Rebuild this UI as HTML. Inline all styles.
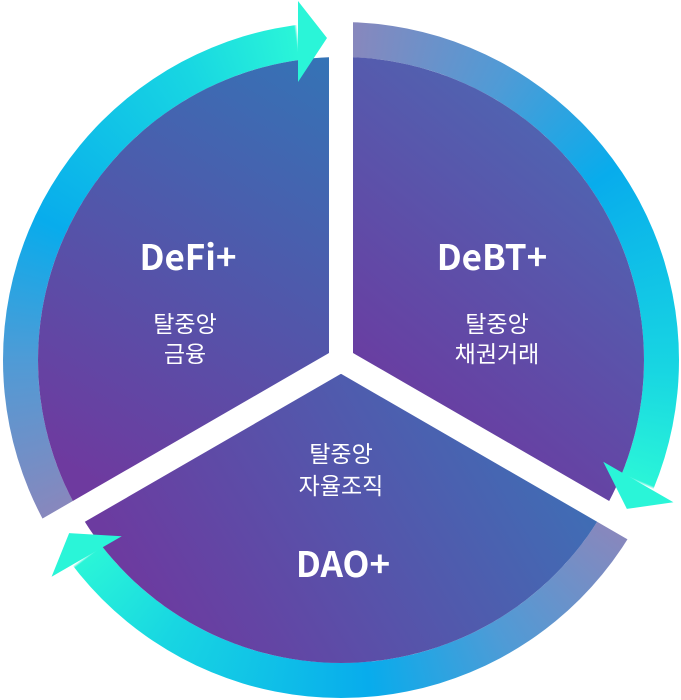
<!DOCTYPE html>
<html><head><meta charset="utf-8"><style>
html,body{margin:0;padding:0;background:#fff;}
#wrap{position:relative;width:681px;height:700px;overflow:hidden;}
#ring{position:absolute;left:3px;top:22px;width:676px;height:676px;border-radius:50%;
background:conic-gradient(from 0deg,
#8c86bb 0deg,#4f9bd6 30deg,#08acec 55deg,#18d6e2 92deg,#2af5d8 112deg,#ffffff 112.5deg,#ffffff 120deg,
#8c86bb 120deg,#4f9bd6 150deg,#08acec 175deg,#18d6e2 212deg,#2af5d8 232deg,#ffffff 232.5deg,#ffffff 240deg,
#8c86bb 240deg,#4f9bd6 270deg,#08acec 295deg,#18d6e2 332deg,#2af5d8 352deg,#ffffff 352.5deg,#ffffff 360deg);}
svg{position:absolute;left:0;top:0;}
.t{font-family:"Noto Sans CJK KR","Liberation Sans",sans-serif;fill:#fff;}
</style></head><body><div id="wrap">
<div id="ring"></div>
<svg width="681" height="700" viewBox="0 0 681 700">
<defs>
<linearGradient id="gL" gradientUnits="userSpaceOnUse" x1="90" y1="480" x2="341" y2="60"><stop offset="0" stop-color="#6e3a9f"/><stop offset="1" stop-color="#3474b6"/></linearGradient>
<linearGradient id="gR" gradientUnits="userSpaceOnUse" x1="360" y1="380" x2="600" y2="80"><stop offset="0" stop-color="#6a3ca1"/><stop offset="1" stop-color="#4a6cb4"/></linearGradient>
<linearGradient id="gD" gradientUnits="userSpaceOnUse" x1="170" y1="640" x2="560" y2="410"><stop offset="0" stop-color="#6c3ba0"/><stop offset="1" stop-color="#3d70b6"/></linearGradient>
</defs>
<circle cx="341" cy="360" r="303" fill="#fff"/>
<path d="M341,360 L78.6,511.5 A303,303 0 0 1 341,57 Z" fill="url(#gL)"/>
<path d="M341,360 L341,57 A303,303 0 0 1 603.4,511.5 Z" fill="url(#gR)"/>
<path d="M341,360 L603.4,511.5 A303,303 0 0 1 78.6,511.5 Z" fill="url(#gD)"/>
<g stroke="#fff" stroke-width="24">
<line x1="341" y1="374" x2="341" y2="-20"/>
<line x1="329" y1="353" x2="670" y2="550"/>
<line x1="353" y1="353" x2="12" y2="550"/>
</g>
<g fill="#2af5d8">
<polygon points="298,1 327,38 298,82"/>
<polygon points="298,1 327,38 298,82" transform="rotate(120 341 360)"/>
<polygon points="298,1 327,38 298,82" transform="rotate(240 341 360)"/>
</g>
<text class="t" x="188" y="270" font-size="35" font-weight="bold" text-anchor="middle">DeFi+</text>
<text class="t" x="185" y="332" font-size="23" text-anchor="middle">탈중앙</text>
<text class="t" x="185" y="362" font-size="23" text-anchor="middle">금융</text>
<text class="t" x="492" y="270" font-size="35" font-weight="bold" text-anchor="middle">DeBT+</text>
<text class="t" x="497" y="332" font-size="23" text-anchor="middle">탈중앙</text>
<text class="t" x="497" y="362" font-size="23" text-anchor="middle">채권거래</text>
<text class="t" x="341" y="462" font-size="23" text-anchor="middle">탈중앙</text>
<text class="t" x="341" y="494" font-size="23" text-anchor="middle">자율조직</text>
<text class="t" x="343" y="577" font-size="35" font-weight="bold" text-anchor="middle">DAO+</text>
</svg>
</div></body></html>
